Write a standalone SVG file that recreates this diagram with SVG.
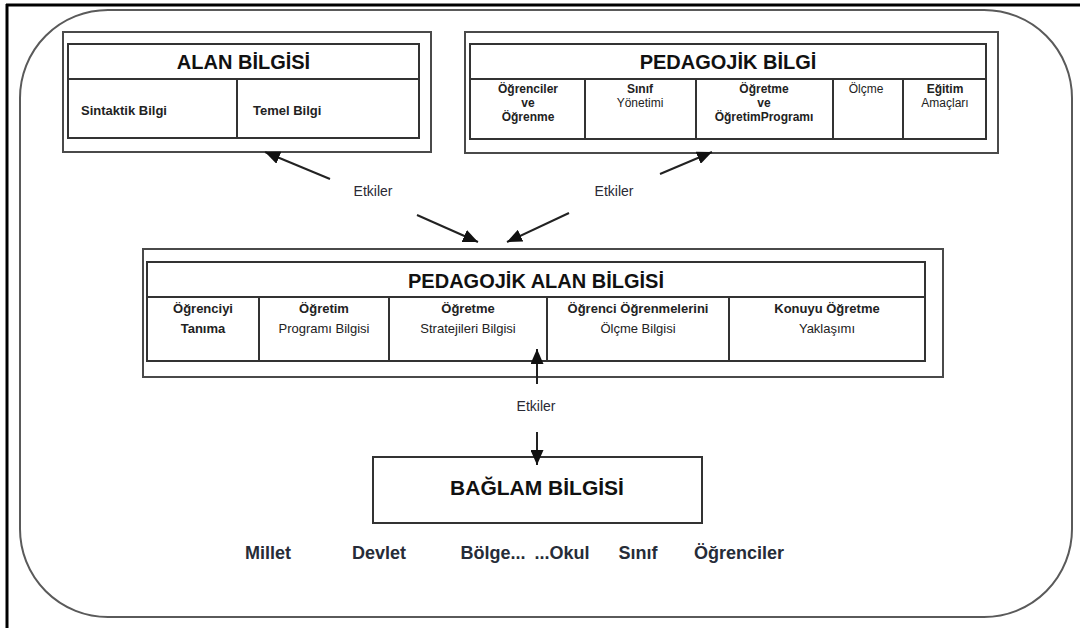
<svg xmlns="http://www.w3.org/2000/svg" width="1080" height="628" viewBox="0 0 1080 628">
  <style>
    text { font-family: "Liberation Sans", Arial, sans-serif; fill: #222; }
    .title { font-size: 20px; font-weight: bold; text-anchor: middle; fill: #111; }
    .cell { font-size: 12px; font-weight: bold; text-anchor: middle; }
    .cellr { font-size: 12px; font-weight: normal; text-anchor: middle; }
    .pcell { font-size: 13px; font-weight: bold; text-anchor: middle; }
    .pcellr { font-size: 13px; font-weight: normal; text-anchor: middle; }
    .acell { font-size: 13px; font-weight: bold; }
    .lbl { font-size: 14px; text-anchor: middle; fill: #2a2a35; }
    .ctx { font-size: 18px; font-weight: bold; text-anchor: middle; fill: #262c38; }
    .outer { fill: #fff; stroke: #4a4a4a; stroke-width: 2; }
    .inner { fill: none; stroke: #333; stroke-width: 2; }
    .div { stroke: #333; stroke-width: 2; }
    .arrow { stroke: #222; stroke-width: 2; fill: none; marker-end: url(#ah); }
  </style>
  <defs>
    <marker id="ah" markerUnits="userSpaceOnUse" markerWidth="15" markerHeight="13" refX="15" refY="6.5" orient="auto">
      <path d="M0,0 L15,6.5 L0,13 z" fill="#111"/>
    </marker>
  </defs>

  <rect x="0" y="0" width="1080" height="628" fill="#fff"/>
  <!-- black frame (left and top) -->
  <line x1="6" y1="5" x2="1080" y2="5" stroke="#000" stroke-width="3"/>
  <line x1="7" y1="4" x2="7" y2="628" stroke="#000" stroke-width="3"/>

  <!-- rounded container -->
  <rect x="20" y="10" width="1052" height="607" rx="88" ry="88" fill="none" stroke="#5a5a5a" stroke-width="2"/>

  <g id="alan-bilgisi">
    <rect class="outer" x="63" y="32" width="368" height="120"/>
    <rect class="inner" x="68" y="44" width="351" height="94"/>
    <line class="div" x1="68" y1="79" x2="419" y2="79"/>
    <line class="div" x1="237" y1="79" x2="237" y2="138"/>
    <text class="title" x="243.5" y="69">ALAN BİLGİSİ</text>
    <text class="acell" x="81" y="115">Sintaktik Bilgi</text>
    <text class="acell" x="253" y="115">Temel Bilgi</text>
  </g>

  <g id="pedagojik-bilgi">
    <rect class="outer" x="465" y="32" width="533" height="121"/>
    <rect class="inner" x="470" y="44" width="516" height="95"/>
    <line class="div" x1="470" y1="79" x2="986" y2="79"/>
    <line class="div" x1="585" y1="79" x2="585" y2="139"/>
    <line class="div" x1="696" y1="79" x2="696" y2="139"/>
    <line class="div" x1="833" y1="79" x2="833" y2="139"/>
    <line class="div" x1="903" y1="79" x2="903" y2="139"/>
    <text class="title" x="728" y="69">PEDAGOJİK BİLGİ</text>
    <text class="cell" x="528" y="93">Öğrenciler</text>
    <text class="cell" x="528" y="107">ve</text>
    <text class="cell" x="528" y="121">Öğrenme</text>
    <text class="cell" x="640" y="93">Sınıf</text>
    <text class="cellr" x="640" y="107">Yönetimi</text>
    <text class="cell" x="764" y="93">Öğretme</text>
    <text class="cell" x="764" y="107">ve</text>
    <text class="cell" x="764" y="121">ÖğretimProgramı</text>
    <text class="cellr" x="866" y="93">Ölçme</text>
    <text class="cell" x="945" y="93">Eğitim</text>
    <text class="cellr" x="945" y="107">Amaçları</text>
  </g>

  <g id="pedagojik-alan-bilgisi">
    <rect class="outer" x="143" y="249" width="800" height="128"/>
    <rect class="inner" x="147" y="262" width="778" height="99"/>
    <line class="div" x1="147" y1="297" x2="925" y2="297"/>
    <line class="div" x1="259" y1="297" x2="259" y2="361"/>
    <line class="div" x1="389" y1="297" x2="389" y2="361"/>
    <line class="div" x1="547" y1="297" x2="547" y2="361"/>
    <line class="div" x1="729" y1="297" x2="729" y2="361"/>
    <text class="title" x="536" y="288">PEDAGOJİK ALAN BİLGİSİ</text>
    <text class="pcell" x="203" y="313">Öğrenciyi</text>
    <text class="pcell" x="203" y="333">Tanıma</text>
    <text class="pcell" x="324" y="313">Öğretim</text>
    <text class="pcellr" x="324" y="333">Programı Bilgisi</text>
    <text class="pcell" x="468" y="313">Öğretme</text>
    <text class="pcellr" x="468" y="333">Stratejileri Bilgisi</text>
    <text class="pcell" x="638" y="313">Öğrenci Öğrenmelerini</text>
    <text class="pcellr" x="638" y="333">Ölçme Bilgisi</text>
    <text class="pcell" x="827" y="313">Konuyu Öğretme</text>
    <text class="pcellr" x="827" y="333">Yaklaşımı</text>
  </g>

  <g id="baglam-bilgisi">
    <rect x="373" y="457" width="329" height="66" fill="#fff" stroke="#333" stroke-width="2"/>
    <text class="title" x="537" y="495" style="font-size:21px">BAĞLAM BİLGİSİ</text>
  </g>

  <g id="connectors">
    <line class="arrow" x1="330" y1="179" x2="265" y2="152"/>
    <line class="arrow" x1="660" y1="174" x2="712" y2="152"/>
    <line class="arrow" x1="417" y1="215" x2="478" y2="242"/>
    <line class="arrow" x1="569" y1="213" x2="507" y2="242"/>
    <line class="arrow" x1="537" y1="384" x2="537" y2="349"/>
    <line class="arrow" x1="537" y1="432" x2="537" y2="465"/>
    <text class="lbl" x="373" y="196">Etkiler</text>
    <text class="lbl" x="614" y="196">Etkiler</text>
    <text class="lbl" x="536" y="411">Etkiler</text>
  </g>

  <g id="context-levels">
    <text class="ctx" x="268" y="559">Millet</text>
    <text class="ctx" x="379" y="559">Devlet</text>
    <text class="ctx" x="493" y="559">Bölge...</text>
    <text class="ctx" x="562" y="559">...Okul</text>
    <text class="ctx" x="638" y="559">Sınıf</text>
    <text class="ctx" x="739" y="559">Öğrenciler</text>
  </g>
</svg>
